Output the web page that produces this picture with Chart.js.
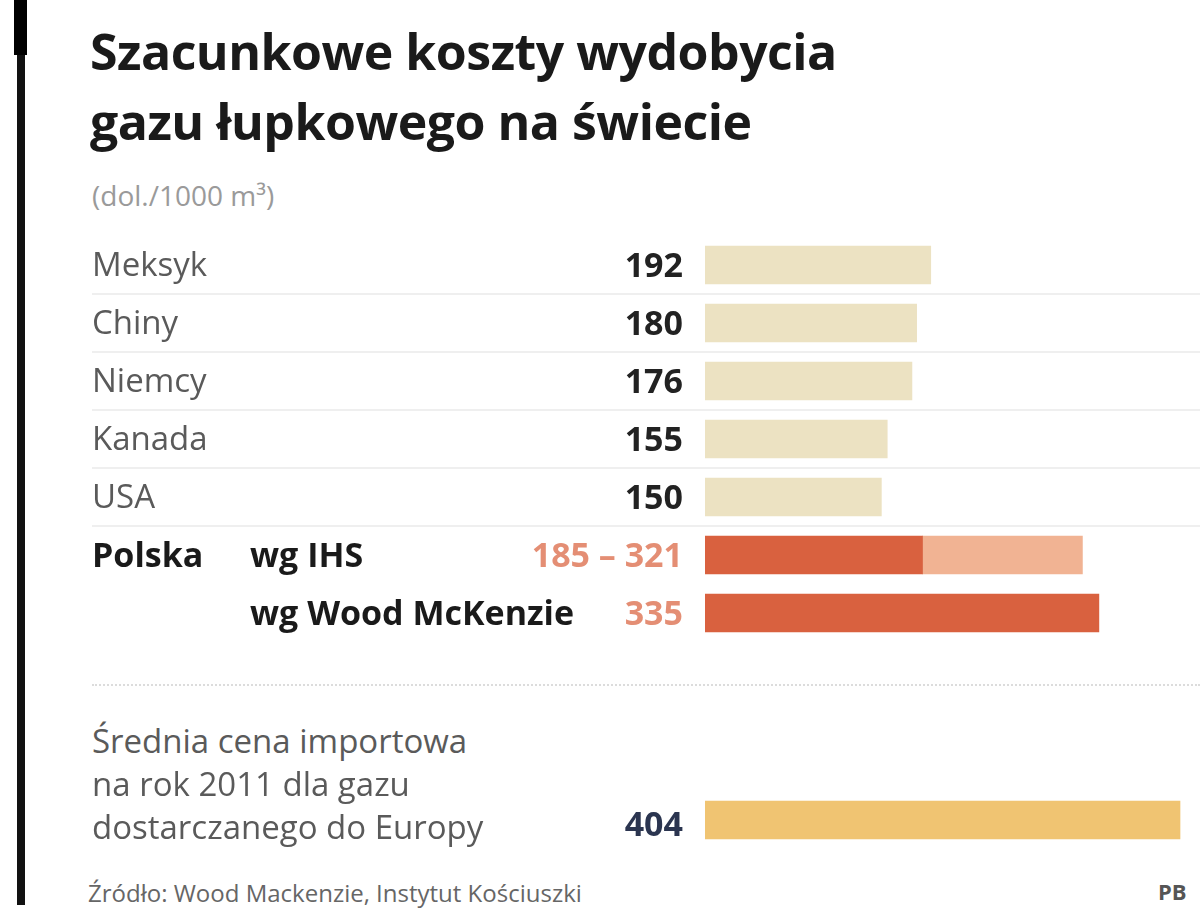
<!DOCTYPE html>
<html>
<head>
<meta charset="utf-8">
<script src="https://cdn.jsdelivr.net/npm/chart.js@4/dist/chart.umd.min.js"></script>
<style>
  body { margin: 0; width: 1200px; height: 923px; background: #fff; position: relative; overflow: hidden; font-family: 'Open Sans', sans-serif; }
  #bar { position: absolute; left: 17px; top: 0; width: 8px; height: 905px; background: #111; }
  #bartop { position: absolute; left: 14px; top: 0; width: 13px; height: 55px; background: #000; }
  #title { position: absolute; left: 90px; top: 16px; font-weight: 700; font-size: 50px; line-height: 70px; color: #1a1a1a; letter-spacing: -0.5px; }
  #unit { position: absolute; left: 92px; top: 176px; font-size: 28px; color: #9a9a9a; }
  #sep { position: absolute; left: 92px; top: 684px; width: 1108px; border-top: 2px dotted #dcdcdc; }
  #source { position: absolute; left: 88px; top: 876px; font-size: 24px; color: #666; }
  #logo { position: absolute; left: 1158px; top: 876px; font-size: 22px; font-weight: 700; color: #555; }
  canvas { position: absolute; left: 0; }
</style>
</head>
<body>
<div id="bar"></div><div id="bartop"></div>
<div id="title">Szacunkowe koszty wydobycia<br>gazu łupkowego na świecie</div>
<div id="unit">(dol./1000 m³)</div>
<div id="sep"></div>
<div id="source">Źródło: Wood Mackenzie, Instytut Kościuszki</div>
<div id="logo">PB</div>
<canvas id="main" width="1200" height="406" style="top:236px"></canvas>
<canvas id="avg" width="1200" height="60" style="top:790px"></canvas>
<script>
// data (USD per 1000 m3)
const countries = ['Meksyk', 'Chiny', 'Niemcy', 'Kanada', 'USA']
const costs = [192, 180, 176, 155, 150]
const polandSources = ['wg IHS', 'wg Wood McKenzie']
const ihsRange = [185, 321]
const woodMcKenzie = 335
const importLabel = ['Średnia cena importowa', 'na rok 2011 dla gazu', 'dostarczanego do Europy']
const importPrice = 404

// colours
const beige = '#ece2c2'
const darkRed = '#d9613f'
const lightRed = '#f1b393'
const salmon = '#e48e74'
const gold = '#f0c472'

const labelFont = '33px "Open Sans"'
const valueFont = 'bold 34px "Open Sans"'
const xMax = 421

// faint row separators, drawn under the bars
const rowLines = {
  id: 'rowLines',
  beforeDatasetsDraw (chart) {
    const y = chart.scales.y
    const ctx = chart.ctx
    const n = chart.data.labels.length
    const half = n > 1 ? (y.getPixelForValue(1) - y.getPixelForValue(0)) / 2 : 0
    ctx.save()
    ctx.strokeStyle = '#efefef'
    ctx.lineWidth = 2
    for (let i = 0; i < n - 2; i++) {
      const py = Math.round(y.getPixelForValue(i) + half)
      ctx.beginPath()
      ctx.moveTo(92, py)
      ctx.lineTo(1200, py)
      ctx.stroke()
    }
    ctx.restore()
  }
}

// row names and values
const mainLabels = {
  id: 'mainLabels',
  afterDatasetsDraw (chart) {
    const y = chart.scales.y
    const ctx = chart.ctx
    ctx.save()
    ctx.textBaseline = 'middle'
    chart.data.labels.forEach((label, i) => {
      const py = y.getPixelForValue(i) + 2
      ctx.textAlign = 'left'
      if (i < countries.length) {
        ctx.font = labelFont
        ctx.fillStyle = '#5a5a5a'
        ctx.fillText(label, 92, py)
        ctx.textAlign = 'right'
        ctx.font = valueFont
        ctx.fillStyle = '#222'
        ctx.fillText(costs[i], 683, py)
      } else {
        ctx.font = valueFont
        ctx.fillStyle = '#1a1a1a'
        if (i === countries.length) ctx.fillText('Polska', 92, py)
        ctx.fillText(label, 250, py)
        ctx.textAlign = 'right'
        ctx.fillStyle = salmon
        const txt = i === countries.length ? ihsRange[0] + ' – ' + ihsRange[1] : String(woodMcKenzie)
        ctx.fillText(txt, 683, py)
      }
    })
    ctx.restore()
  }
}

const avgLabels = {
  id: 'avgLabels',
  afterDatasetsDraw (chart) {
    const py = chart.scales.y.getPixelForValue(0)
    const ctx = chart.ctx
    ctx.save()
    ctx.textBaseline = 'middle'
    ctx.textAlign = 'right'
    ctx.font = valueFont
    ctx.fillStyle = '#2b3550'
    ctx.fillText(importPrice, 683, py + 6)
    ctx.restore()
  }
}

const hiddenScales = (max) => ({
  x: { type: 'linear', min: 0, max, display: false },
  y: { type: 'category', display: false }
})

const labels = countries.concat(polandSources)
const baseValues = costs.concat([ihsRange[0], woodMcKenzie])
const rangeValues = costs.map(() => null).concat([ihsRange, null])

new Chart(document.getElementById('main'), {
  type: 'bar',
  data: {
    labels,
    datasets: [
      {
        data: baseValues,
        backgroundColor: labels.map((x, i) => i < countries.length ? beige : darkRed),
        barThickness: 38,
        grouped: false
      },
      {
        data: rangeValues,
        backgroundColor: lightRed,
        barThickness: 38,
        grouped: false
      }
    ]
  },
  options: {
    indexAxis: 'y',
    responsive: false,
    animation: false,
    layout: { padding: { left: 705 } },
    plugins: { legend: { display: false }, tooltip: { enabled: false } },
    scales: hiddenScales(xMax)
  },
  plugins: [rowLines, mainLabels]
})

new Chart(document.getElementById('avg'), {
  type: 'bar',
  data: {
    labels: ['import'],
    datasets: [{ data: [importPrice], backgroundColor: gold, barThickness: 38 }]
  },
  options: {
    indexAxis: 'y',
    responsive: false,
    animation: false,
    layout: { padding: { left: 705 } },
    plugins: { legend: { display: false }, tooltip: { enabled: false } },
    scales: hiddenScales(xMax)
  },
  plugins: [avgLabels]
})

// multi-line label of the import price row
importLabel.forEach((line, i) => {
  const d = document.createElement('div')
  d.textContent = line
  d.style.cssText = 'position:absolute;left:92px;font-size:33px;color:#5a5a5a;top:' + (718 + i * 43) + 'px'
  document.body.appendChild(d)
})
</script>
</body>
</html>
